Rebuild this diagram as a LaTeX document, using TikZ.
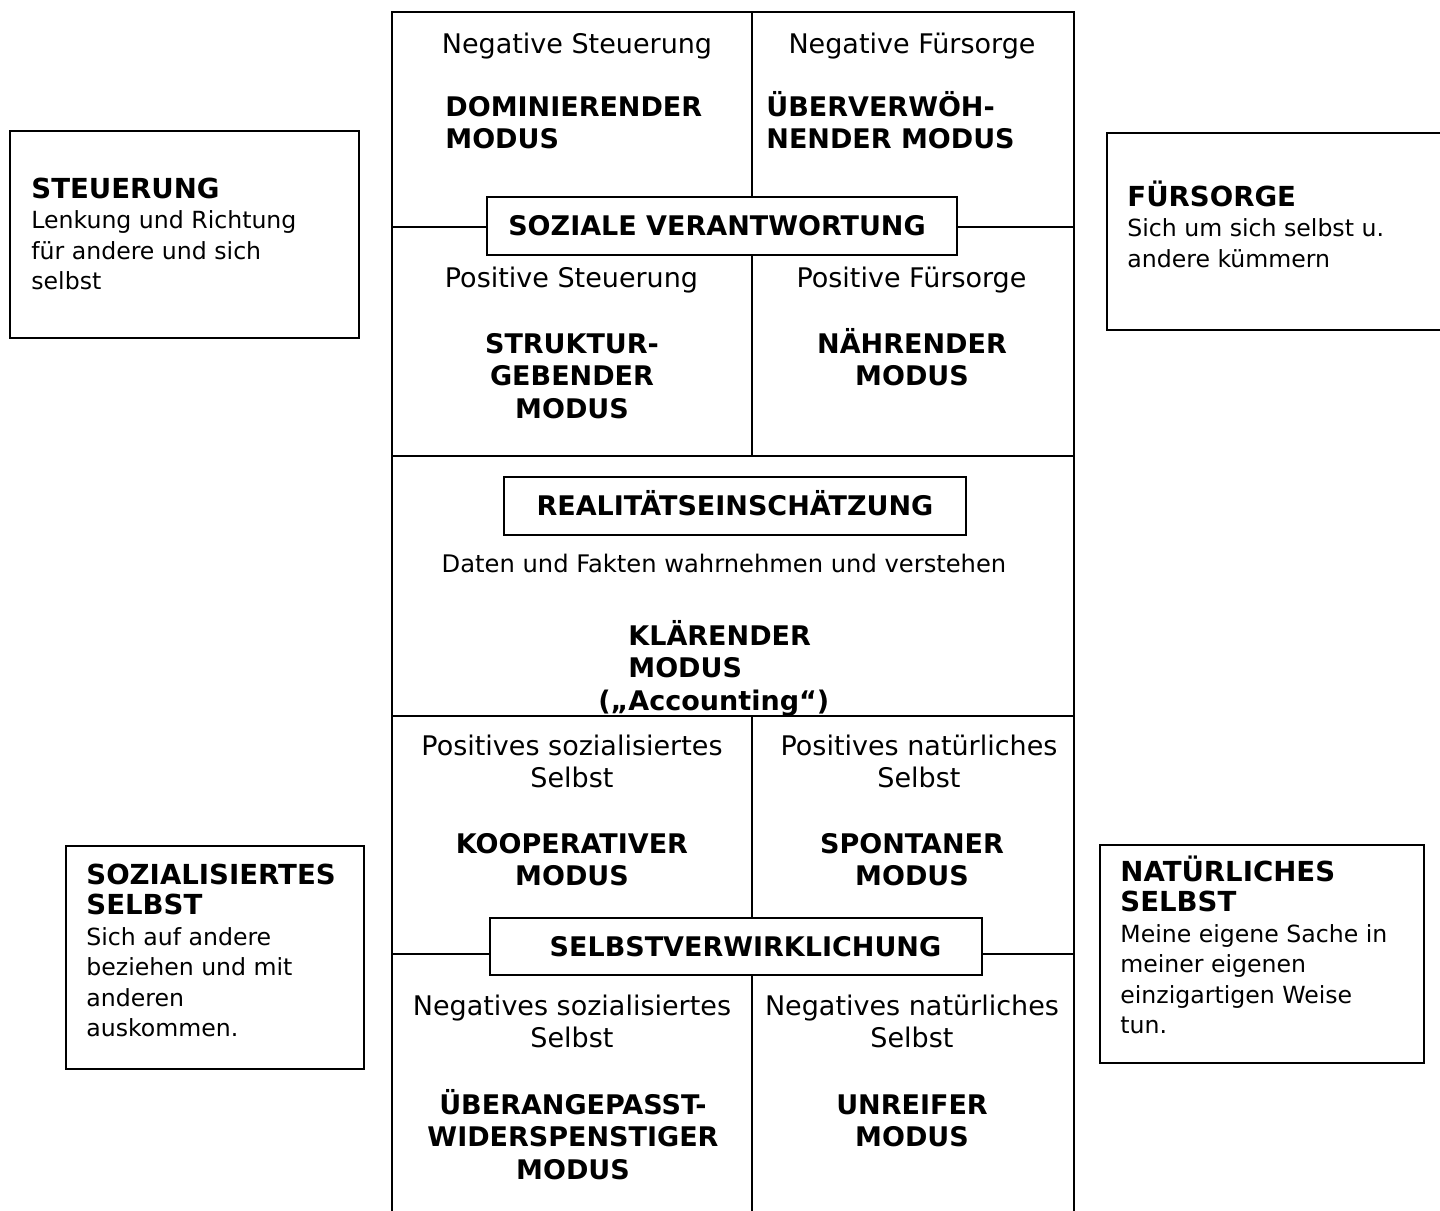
\documentclass[tikz,border=0pt]{standalone}
\usepackage{fontspec}
\setmainfont{DejaVu Sans}
\begin{document}
\begin{tikzpicture}[x=0.5pt,y=-0.5pt,
  rule/.style={line width=1pt},
  ctxt/.style={font=\fontsize{13.5}{16}\selectfont,align=center,inner sep=0pt,anchor=base},
  cbold/.style={font=\bfseries\fontsize{13.5}{16.25}\selectfont,align=center,inner sep=0pt,anchor=base},
  lbold/.style={cbold,align=left,anchor=base west},
  tag/.style={draw,line width=1pt,fill=white,inner sep=0pt,font=\bfseries\fontsize{13.5}{16}\selectfont,text height=9.85pt,text depth=0pt},
  sidebox/.style={draw,line width=1pt,inner sep=0pt,anchor=north west},
  sidetxt/.style={font=\fontsize{11.8}{15.25}\selectfont,align=left,inner sep=0pt,anchor=base west}]
\newcommand\sidehead[1]{{\fontsize{13.8}{15.25}\selectfont\bfseries #1}}
\useasboundingbox (0,0) rectangle (1440,1210);

% frame coordinates
\coordinate (tl) at (392,12);
\coordinate (tr) at (1074,12);
\coordinate (bl) at (392,1216);
\coordinate (br) at (1074,1216);
\coordinate (tm) at (752,12);
\coordinate (mm1) at (752,456);
\coordinate (mm2) at (752,716);
\coordinate (bm) at (752,1216);
\coordinate (s1l) at (392,227);
\coordinate (s1r) at (1074,227);
\coordinate (r1l) at (392,456);
\coordinate (r1r) at (1074,456);
\coordinate (r2l) at (392,716);
\coordinate (r2r) at (1074,716);
\coordinate (s3l) at (392,954);
\coordinate (s3r) at (1074,954);

\draw[rule] (bl) -- (tl) -- (tr) -- (br);
\draw[rule] (tm) -- (mm1);
\draw[rule] (mm2) -- (bm);
\draw[rule] (s1l) -- (s1r);
\draw[rule] (r1l) -- (r1r);
\draw[rule] (r2l) -- (r2r);
\draw[rule] (s3l) -- (s3r);

% section labels
\node[tag,minimum width=235pt,minimum height=29pt] (soz) at (722,226) {SOZIALE VERANTWORTUNG\hspace*{5pt}};
\node[tag,minimum width=231pt,minimum height=29pt] (real) at (735,506) {REALITÄTSEINSCHÄTZUNG};
\node[tag,minimum width=246pt,minimum height=28.5pt] (selb) at (735.5,946.5) {\hspace*{10pt}SELBSTVERWIRKLICHUNG};

% cell texts (anchor = baseline of last line)
\node[ctxt] (ns) at (577,53) {Negative Steuerung};
\node[ctxt] (nf) at (912,53) {Negative Fürsorge};
\node[lbold] (dom) at (445,148.5) {DOMINIERENDER\\MODUS};
\node[lbold] (ueb) at (766,148.5) {ÜBERVERWÖH-\\NENDER MODUS};
\node[ctxt] (ps) at (571.5,287) {Positive Steuerung};
\node[ctxt] (pf) at (911.5,287) {Positive Fürsorge};
\node[cbold] (str) at (572,418) {STRUKTUR-\\GEBENDER\\MODUS};
\node[cbold] (nae) at (912,385.5) {NÄHRENDER\\MODUS};
\node[ctxt,font=\fontsize{12.1}{15}\selectfont] (dat) at (724,572) {Daten und Fakten wahrnehmen und verstehen};
\node[lbold] (kla) at (628,710) {KLÄRENDER\\MODUS\\\hspace*{-15pt}(„Accounting“)};
\node[ctxt] (pss) at (572,787) {Positives sozialisiertes\\Selbst};
\node[ctxt] (pns) at (919,787) {Positives natürliches\\Selbst};
\node[cbold] (koo) at (572,885.5) {KOOPERATIVER\\MODUS};
\node[cbold] (spo) at (912,885.5) {SPONTANER\\MODUS};
\node[ctxt] (nss) at (572,1047) {Negatives sozialisiertes\\Selbst};
\node[ctxt] (nns) at (912,1047) {Negatives natürliches\\Selbst};
\node[cbold] (uea) at (573,1179) {ÜBERANGEPASST-\\WIDERSPENSTIGER\\MODUS};
\node[cbold] (unr) at (912,1146.5) {UNREIFER\\MODUS};

% side boxes
\node[sidebox,minimum width=174.5pt,minimum height=103.5pt] (bsteu) at (9,130) {};
\node[sidetxt] (tsteu) at (31,289.5) {\sidehead{STEUERUNG}\\Lenkung und Richtung\\für andere und sich\\selbst};
\node[sidebox,minimum width=172pt,minimum height=98.5pt] (bfue) at (1106,132) {};
\node[sidetxt] (tfue) at (1127,267) {\sidehead{FÜRSORGE}\\Sich um sich selbst u.\\andere kümmern};
\node[sidebox,minimum width=149pt,minimum height=111.5pt] (bsoz) at (65,845) {};
\node[sidetxt] (tsoz) at (86,1036.5) {\sidehead{SOZIALISIERTES}\\\sidehead{SELBST}\\Sich auf andere\\beziehen und mit\\anderen\\auskommen.};
\node[sidebox,minimum width=162pt,minimum height=109pt] (bnat) at (1099,844) {};
\node[sidetxt] (tnat) at (1120,1033.5) {\sidehead{NATÜRLICHES}\\\sidehead{SELBST}\\Meine eigene Sache in\\meiner eigenen\\einzigartigen Weise\\tun.};
\end{tikzpicture}
\end{document}
